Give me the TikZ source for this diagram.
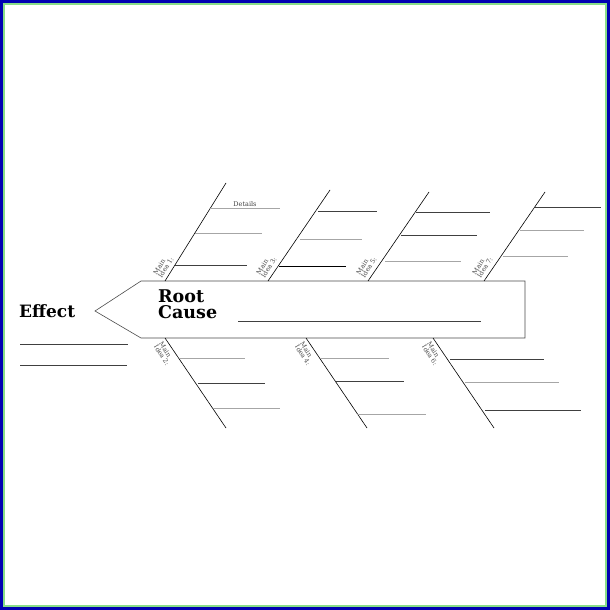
\documentclass[tikz,border=0pt]{standalone}
\usepackage{fontspec}
\setmainfont{DejaVu Serif}
\usetikzlibrary{calc}
\begin{document}
\begin{tikzpicture}[x=1pt,y=-1pt,
  ln/.style={line width=0.7pt,draw=black!75},
  lg/.style={line width=0.7pt,draw=black!35},
  rib/.style={line width=0.6pt,draw=black},
  lab/.style={font=\fontsize{6.5}{6}\selectfont,text=black!70,align=left,inner sep=0pt}]
\fill[blue!70!black] (0,0) rectangle (610,610);
\fill[green!55!gray!60] (3,3) rectangle (607,607);
\fill[white] (5,5) rectangle (605,605);
\useasboundingbox (0,0) rectangle (610,610);
% arrow
\draw[line width=0.6pt,draw=black!70] (95,311) -- (141,281) -- (525,281) -- (525,338) -- (141,338) -- cycle;
\node[font=\bfseries\fontsize{17}{17}\selectfont,anchor=west,inner sep=0pt] (eff) at (19,311) {Effect};
\node[font=\bfseries\fontsize{17.5}{16}\selectfont,anchor=north west,align=left,inner sep=0pt] (rc) at (158,290) {Root\\Cause};
\draw[ln] (238,321) -- (481,321);
\draw[ln] (20,344) -- (128,344);
\draw[ln] (20,365) -- (127,365);
% upper ribs
\foreach \n/\bx/\tx/\ty in {1/165/226/183, 3/268/330/190, 5/368/429/192, 7/484/545/192}{
  \coordinate (b\n) at (\bx,281); \coordinate (t\n) at (\tx,\ty);
  \draw[rib] (b\n) -- (t\n);
  \node[lab,rotate=58,anchor=south west] (l\n) at ($(b\n)+(-3,-2)$) {Main\\Idea \n:};
}
\node[font=\fontsize{6.5}{6}\selectfont,text=black!75] (det) at (245,204) {Details};
\draw[lg] (210,208) -- (280,208);
\draw[lg] (195,233) -- (262,233);
\draw[ln] (175,265) -- (247,265);
\draw[ln] (318,211) -- (377,211);
\draw[lg] (300,239) -- (362,239);
\draw[line width=0.8pt] (279,266) -- (346,266);
\draw[ln] (416,212) -- (490,212);
\draw[ln] (401,235) -- (477,235);
\draw[lg] (385,261) -- (461,261);
\draw[ln] (535,207) -- (601,207);
\draw[lg] (520,230) -- (584,230);
\draw[lg] (503,256) -- (568,256);
% lower ribs
\foreach \n/\bx in {2/165, 4/306, 6/433}{
  \coordinate (c\n) at (\bx,338); \coordinate (d\n) at ({\bx+61},428);
  \draw[rib] (c\n) -- (d\n);
  \node[lab,rotate=-58,anchor=north west] (m\n) at ($(c\n)+(-2,3)$) {Main\\Idea \n:};
}
\draw[lg] (180,358) -- (245,358);
\draw[ln] (198,383) -- (265,383);
\draw[lg] (213,408) -- (280,408);
\draw[lg] (320,358) -- (389,358);
\draw[ln] (336,381) -- (404,381);
\draw[lg] (357,414) -- (426,414);
\draw[ln] (450,359) -- (544,359);
\draw[lg] (465,382) -- (559,382);
\draw[ln] (485,410) -- (581,410);
\end{tikzpicture}
\end{document}
